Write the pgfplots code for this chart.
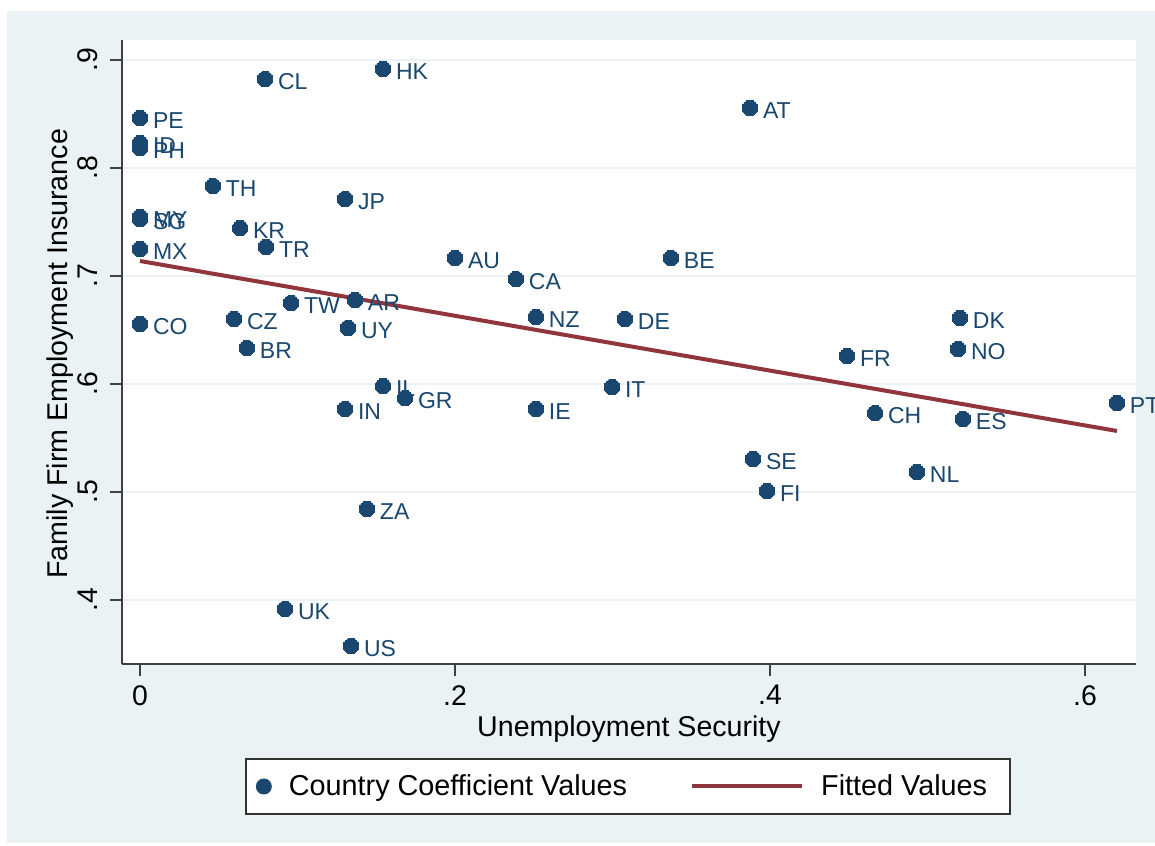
\documentclass[border=0pt]{standalone}
\usepackage{pgfplots}
\pgfplotsset{compat=1.18}
\usepackage{pgfplotstable}
\usepackage{fontspec}
\setmainfont{Liberation Sans}

\definecolor{stnavy}{RGB}{26,71,111}
\definecolor{stmaroon}{RGB}{144,53,59}
\definecolor{stbg}{RGB}{234,242,243}

% country coefficients
\pgfplotstableread{
x      y      label
0.1543 0.8917 HK
0.0794 0.8824 CL
0      0.8463 PE
0      0.8231 ID
0      0.8185 PH
0.3873 0.8556 AT
0.0463 0.7833 TH
0.1302 0.7713 JP
0      0.7546 MY
0      0.7528 SG
0.0635 0.7444 KR
0.0800 0.7269 TR
0      0.7250 MX
0.2000 0.7167 AU
0.2387 0.6972 CA
0.3371 0.7167 BE
0.0959 0.6750 TW
0.1365 0.6778 AR
0      0.6556 CO
0.0597 0.6602 CZ
0.1321 0.6519 UY
0.2514 0.6620 NZ
0.3079 0.6602 DE
0.5206 0.6611 DK
0.5194 0.6324 NO
0.0679 0.6333 BR
0.4489 0.6259 FR
0.1543 0.5981 IL
0.1683 0.5870 GR
0.2997 0.5972 IT
0.6203 0.5824 PT
0.1302 0.5769 IN
0.2514 0.5769 IE
0.4667 0.5731 CH
0.5225 0.5676 ES
0.3892 0.5306 SE
0.3981 0.5009 FI
0.4933 0.5185 NL
0.1441 0.4843 ZA
0.0921 0.3917 UK
0.1340 0.3574 US
}\countries

\pgfplotstableread{
x      y
0      0.7139
0.6203 0.5565
}\fitted

\begin{document}
\begin{tikzpicture}
\path[use as bounding box, clip] (-61pt,-90.5pt) rectangle (516.5pt,332pt);
\fill[white] (-61pt,-90.5pt) rectangle (516.5pt,332pt);
\fill[stbg] (-57.5pt,-89.5pt) rectangle (516.5pt,326.5pt);
\fill[white] (0,0) rectangle (507pt,312pt);
\begin{axis}[
    scale only axis,
    width=507pt,
    height=312pt,
    xmin=-0.01143, xmax=0.63238,
    ymin=0.34074, ymax=0.91852,
    axis x line*=bottom,
    axis y line*=left,
    axis line style={black!75, line width=0.8pt},
    tick style={black!75, line width=0.8pt},
    tick align=outside,
    major tick length=6pt,
    xtick={0,0.2,0.4,0.6},
    xticklabels={0,.2,.4,.6},
    ytick={0.4,0.5,0.6,0.7,0.8,0.9},
    yticklabels={.4,.5,.6,.7,.8,.9},
    ticklabel style={font=\fontsize{14.2}{16}\selectfont},
    xticklabel style={anchor=north, inner sep=0pt},
    yticklabel style={rotate=90, anchor=south, inner sep=0pt},
    xticklabel shift=4.5pt,
    yticklabel shift=6pt,
    ymajorgrids,
    grid style={stbg, line width=1pt},
    xlabel={Unemployment Security},
    ylabel={Family Firm Employment Insurance},
    label style={font=\fontsize{14.3}{16}\selectfont, inner sep=0pt},
    xlabel style={at={(axis description cs:0.5,-0.105)}, anchor=center},
    ylabel style={at={(axis description cs:-0.0611,0.497)}, anchor=center, rotate=0},
    clip=false,
    legend columns=2,
    legend style={
        at={(0.499,-0.1963)}, anchor=center,
        draw=black!80, line width=1pt, fill=white,
        inner xsep=0pt, inner ysep=8pt,
        font=\fontsize{14.4}{16}\selectfont,
        nodes={inner sep=0pt}, column sep=0pt,
    },
    legend cell align=left,
]
\addplot[only marks, mark=*, mark size=3.9pt,
    mark options={draw=stnavy, fill=stnavy, line width=0pt},
    point meta=explicit symbolic,
    nodes near coords,
    every node near coord/.append style={anchor=west, inner sep=0pt,
        xshift=6.5pt, yshift=-1.25pt, text=stnavy,
        font=\fontsize{11.5}{13}\selectfont},
    legend image code/.code={
        \path[draw=none, fill=none] (0pt,-4pt) rectangle (21.5pt,4pt);
        \fill[stnavy, draw=none] (9pt,0pt) circle (4pt);
    },
] table[x=x, y=y, meta=label] {\countries};
\addlegendentry{Country Coefficient Values}
\addplot[stmaroon, line width=2pt, no marks,
    legend image code/.code={
        \path[draw=none, fill=none] (0pt,-4pt) rectangle (97pt,4pt);
        \draw[stmaroon, line width=2pt] (32.5pt,0pt) -- (87.5pt,0pt);
    },
] table[x=x, y=y] {\fitted};
\addlegendentry{Fitted Values\hspace*{11.5pt}}
\end{axis}
\end{tikzpicture}
\end{document}
